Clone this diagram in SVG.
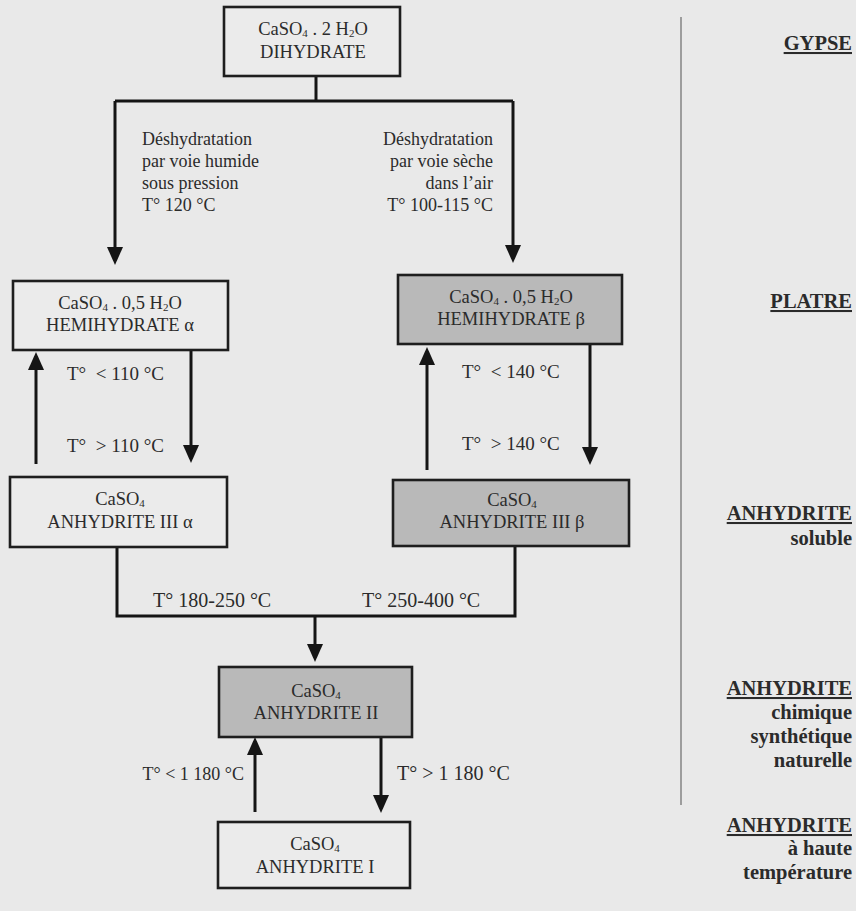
<svg xmlns="http://www.w3.org/2000/svg" width="856" height="911" viewBox="0 0 856 911">
  <style>
    text { font-family: "Liberation Serif", "Times New Roman", serif; fill: #2b2b2b; }
    .t { font-size: 18px; }
    .b { font-size: 18.5px; text-anchor: middle; }
    .k { font-size: 19px; }
    .kl { font-size: 20px; }
    .e { text-anchor: end; }
    .h { font-size: 20.5px; font-weight: bold; text-anchor: end; }
    .u { text-decoration: underline; }
    .sub { font-size: 11px; }
    .box { stroke: #1e1e1e; stroke-width: 2.6; }
    .plain { fill: #ebebeb; }
    .shade { fill: #b9b9b9; }
    .ln { stroke: #151515; stroke-width: 3; fill: none; }
    .arr { marker-end: url(#ah); }
  </style>
  <defs>
    <marker id="ah" viewBox="0 0 18 16" refX="14" refY="8" markerWidth="18" markerHeight="16" markerUnits="userSpaceOnUse" orient="auto">
      <path d="M0,0 L18,8 L0,16 z" fill="#151515"/>
    </marker>
  </defs>

  <rect width="856" height="911" fill="#e9e9e9"/>

  <!-- connectors -->
  <g id="connectors">
    <path class="ln" d="M316,76 V101"/>
    <path class="ln" d="M115,101 H513"/>
    <path class="ln arr" d="M115,101 V261"/>
    <path class="ln arr" d="M513,101 V259"/>
    <!-- alpha branch -->
    <path class="ln arr" d="M36,464 V356"/>
    <path class="ln arr" d="M191,350 V459"/>
    <!-- beta branch -->
    <path class="ln arr" d="M427,470 V351"/>
    <path class="ln arr" d="M590,344 V461"/>
    <!-- merge to anhydrite II -->
    <path class="ln" d="M117,547 V616 H515 V546"/>
    <path class="ln arr" d="M315,616 V658"/>
    <!-- anhydrite II / I -->
    <path class="ln arr" d="M255,812 V741"/>
    <path class="ln arr" d="M381,737 V809"/>
  </g>

  <!-- transition labels -->
  <g id="labels">
    <text class="t" x="142" y="145">Déshydratation</text>
    <text class="t" x="142" y="167">par voie humide</text>
    <text class="t" x="142" y="189">sous pression</text>
    <text class="t" x="142" y="211">T° 120 °C</text>
    <text class="t e" x="493" y="145">Déshydratation</text>
    <text class="t e" x="493" y="167">par voie sèche</text>
    <text class="t e" x="493" y="189">dans l’air</text>
    <text class="t e" x="493" y="211">T° 100-115 °C</text>
    <text class="k" x="67" y="380">T°&#160; &lt; 110 °C</text>
    <text class="k" x="67" y="452">T°&#160; &gt; 110 °C</text>
    <text class="k" x="462" y="378">T°&#160; &lt; 140 °C</text>
    <text class="k" x="462" y="450">T°&#160; &gt; 140 °C</text>
    <text class="kl" x="153" y="607">T° 180-250 °C</text>
    <text class="kl" x="362" y="607">T° 250-400 °C</text>
    <text class="t e" x="244" y="780">T° &lt; 1 180 °C</text>
    <text class="kl" x="397" y="780">T° &gt; 1 180 °C</text>
  </g>

  <!-- nodes -->
  <g id="dihydrate">
    <rect class="box plain" x="224" y="7" width="176" height="69"/>
    <text class="b" x="313" y="35">CaSO<tspan class="sub" dy="2">4</tspan><tspan dy="-2"> . 2 H</tspan><tspan class="sub" dy="2">2</tspan><tspan dy="-2">O</tspan></text>
    <text class="b" x="313" y="58">DIHYDRATE</text>
  </g>

  <g id="hemihydrate-alpha">
    <rect class="box plain" x="13" y="281" width="215" height="69"/>
    <text class="b" x="120" y="309">CaSO<tspan class="sub" dy="2">4</tspan><tspan dy="-2"> . 0,5 H</tspan><tspan class="sub" dy="2">2</tspan><tspan dy="-2">O</tspan></text>
    <text class="b" x="120" y="331">HEMIHYDRATE α</text>
  </g>

  <g id="hemihydrate-beta">
    <rect class="box shade" x="398" y="275" width="224" height="69"/>
    <text class="b" x="511" y="303">CaSO<tspan class="sub" dy="2">4</tspan><tspan dy="-2"> . 0,5 H</tspan><tspan class="sub" dy="2">2</tspan><tspan dy="-2">O</tspan></text>
    <text class="b" x="511" y="325">HEMIHYDRATE β</text>
  </g>

  <g id="anhydrite-iii-alpha">
    <rect class="box plain" x="10" y="477" width="217" height="70"/>
    <text class="b" x="120" y="505">CaSO<tspan class="sub" dy="2">4</tspan></text>
    <text class="b" x="120" y="528">ANHYDRITE III α</text>
  </g>

  <g id="anhydrite-iii-beta">
    <rect class="box shade" x="393" y="480" width="236" height="66"/>
    <text class="b" x="512" y="506">CaSO<tspan class="sub" dy="2">4</tspan></text>
    <text class="b" x="512" y="528">ANHYDRITE III β</text>
  </g>

  <g id="anhydrite-ii">
    <rect class="box shade" x="219" y="667" width="193" height="70"/>
    <text class="b" x="316" y="697">CaSO<tspan class="sub" dy="2">4</tspan></text>
    <text class="b" x="316" y="719">ANHYDRITE II</text>
  </g>

  <g id="anhydrite-i">
    <rect class="box plain" x="218" y="822" width="192" height="66"/>
    <text class="b" x="315" y="850">CaSO<tspan class="sub" dy="2">4</tspan></text>
    <text class="b" x="315" y="873">ANHYDRITE I</text>
  </g>

  <!-- phase names column -->
  <g id="legend">
    <line x1="681" y1="17" x2="681" y2="805" stroke="#8a8a8a" stroke-width="1.6"/>
    <text class="h u" x="852" y="50">GYPSE</text>
    <text class="h u" x="852" y="308">PLATRE</text>
    <text class="h u" x="852" y="520">ANHYDRITE</text>
    <text class="h" x="852" y="545">soluble</text>
    <text class="h u" x="852" y="695">ANHYDRITE</text>
    <text class="h" x="852" y="719">chimique</text>
    <text class="h" x="852" y="743">synthétique</text>
    <text class="h" x="852" y="767">naturelle</text>
    <text class="h u" x="852" y="832">ANHYDRITE</text>
    <text class="h" x="852" y="855">à haute</text>
    <text class="h" x="852" y="879">température</text>
  </g>
</svg>
